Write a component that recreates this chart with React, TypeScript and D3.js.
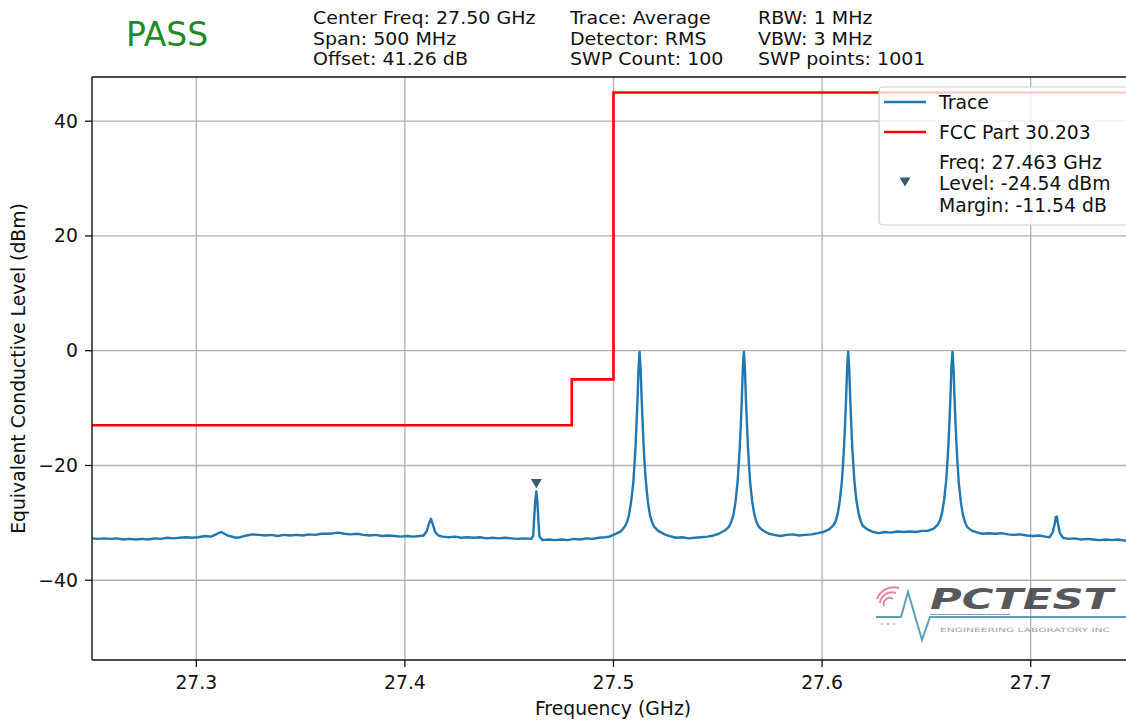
import React from "react";
import * as d3 from "d3";

const W = 1126;
const H = 721;

const headerCol1 = ["Center Freq: 27.50 GHz", "Span: 500 MHz", "Offset: 41.26 dB"];
const headerCol2 = ["Trace: Average", "Detector: RMS", "SWP Count: 100"];
const headerCol3 = ["RBW: 1 MHz", "VBW: 3 MHz", "SWP points: 1001"];
const verdict = "PASS";

const xTicks = [27.3, 27.4, 27.5, 27.6, 27.7];
const yTicks = [40, 20, 0, -20, -40];
const xDomain: [number, number] = [27.25, 27.75];
const yDomain: [number, number] = [-53.9, 47.7];

// FCC Part 30.203 limit (step after)
const limitFreq = [27.25, 27.48, 27.5, 27.75];
const limitLevel = [-13, -5, 45, 45];

const markerFreq = 27.463;
const markerLevel = -24.54;
const markerLegend = ["Freq: 27.463 GHz", "Level: -24.54 dBm", "Margin: -11.54 dB"];

// Trace: [frequency GHz, level dBm]
const traceData: [number, number][] = [
  [27.25, -32.7], [27.253, -32.8], [27.256, -32.7], [27.259, -32.8], [27.262, -32.7],
  [27.265, -32.9], [27.268, -32.8], [27.271, -32.9], [27.274, -32.8], [27.277, -32.9],
  [27.28, -32.7], [27.283, -32.8], [27.286, -32.6], [27.289, -32.7], [27.292, -32.6],
  [27.295, -32.5], [27.298, -32.6], [27.301, -32.5], [27.304, -32.3], [27.307, -32.4],
  [27.309, -32.1], [27.3105, -31.8], [27.312, -31.6], [27.3135, -31.9], [27.315, -32.2],
  [27.317, -32.4], [27.319, -32.6], [27.321, -32.5], [27.324, -32.2], [27.327, -32.0],
  [27.33, -32.1], [27.333, -32.2], [27.336, -32.1], [27.339, -32.3], [27.342, -32.1],
  [27.345, -32.2], [27.348, -32.1], [27.351, -32.2], [27.354, -32.0], [27.357, -32.1],
  [27.36, -31.9], [27.363, -31.9], [27.366, -31.8], [27.368, -31.7], [27.371, -31.9],
  [27.374, -32.0], [27.377, -31.9], [27.38, -32.1], [27.383, -32.2], [27.386, -32.1],
  [27.389, -32.3], [27.392, -32.2], [27.395, -32.3], [27.398, -32.4], [27.401, -32.3],
  [27.404, -32.4], [27.407, -32.3], [27.409, -32.2], [27.4105, -31.4], [27.4115, -30.2],
  [27.4125, -29.3], [27.4135, -30.4], [27.4145, -31.6], [27.416, -32.2], [27.418, -32.4],
  [27.421, -32.5], [27.424, -32.4], [27.427, -32.6], [27.43, -32.5], [27.433, -32.6],
  [27.436, -32.5], [27.439, -32.7], [27.442, -32.6], [27.445, -32.7], [27.448, -32.6],
  [27.451, -32.7], [27.454, -32.8], [27.457, -32.7], [27.4605, -32.8], [27.4615, -32.3],
  [27.462, -29.0], [27.4625, -26.1], [27.463, -24.54], [27.4635, -26.3], [27.464, -29.6],
  [27.4645, -32.4], [27.466, -33.0], [27.469, -32.9], [27.472, -33.0], [27.475, -32.9],
  [27.478, -33.0], [27.481, -32.8], [27.484, -32.9], [27.487, -32.7], [27.49, -32.8],
  [27.493, -32.6], [27.496, -32.5], [27.498, -32.4],
  // peak 1
  [27.5005, -32.0], [27.5035, -31.5], [27.5055, -30.6], [27.5065, -29.9], [27.5075, -28.5],
  [27.5085, -26.2], [27.5095, -22.9], [27.51, -20.1], [27.5105, -17.1], [27.511, -13.0],
  [27.5115, -8.6], [27.512, -3.1], [27.5125, -0.2], [27.513, -3.2], [27.5135, -8.4],
  [27.514, -12.9], [27.5145, -17.0], [27.515, -20.2], [27.5155, -22.7], [27.5165, -26.4],
  [27.5175, -28.7], [27.5185, -29.9], [27.5195, -30.7], [27.5215, -31.4], [27.5245, -32.0],
  [27.527, -32.3], [27.53, -32.6], [27.533, -32.5], [27.536, -32.7], [27.539, -32.6],
  [27.542, -32.5], [27.545, -32.4], [27.548, -32.2],
  // peak 2
  [27.5505, -31.9], [27.5535, -31.3], [27.5555, -30.6], [27.5565, -29.8], [27.5575, -28.6],
  [27.5585, -26.3], [27.5595, -22.8], [27.56, -20.0], [27.5605, -17.0], [27.561, -13.1],
  [27.5615, -8.5], [27.562, -3.0], [27.5625, -0.2], [27.563, -3.1], [27.5635, -8.6],
  [27.564, -13.0], [27.5645, -17.1], [27.565, -20.1], [27.5655, -22.9], [27.5665, -26.3],
  [27.5675, -28.5], [27.5685, -29.8], [27.5695, -30.6], [27.5715, -31.3], [27.5745, -31.9],
  [27.577, -32.1], [27.58, -32.3], [27.583, -32.1], [27.586, -32.0], [27.589, -32.2],
  [27.592, -32.1], [27.595, -32.0], [27.598, -31.8],
  // peak 3
  [27.6005, -31.6], [27.6035, -31.1], [27.6055, -30.4], [27.6065, -29.7], [27.6075, -28.4],
  [27.6085, -26.1], [27.6095, -22.7], [27.61, -19.9], [27.6105, -16.9], [27.611, -12.9],
  [27.6115, -8.4], [27.612, -3.0], [27.6125, -0.2], [27.613, -3.1], [27.6135, -8.5],
  [27.614, -13.0], [27.6145, -17.0], [27.615, -20.0], [27.6155, -22.8], [27.6165, -26.2],
  [27.6175, -28.4], [27.6185, -29.7], [27.6195, -30.5], [27.6215, -31.1], [27.6245, -31.6],
  [27.627, -31.8], [27.63, -31.6], [27.633, -31.7], [27.636, -31.5], [27.639, -31.6],
  [27.642, -31.5], [27.645, -31.6], [27.648, -31.4],
  // peak 4
  [27.6505, -31.4], [27.6535, -31.0], [27.6555, -30.3], [27.6565, -29.6], [27.6575, -28.3],
  [27.6585, -26.0], [27.6595, -22.6], [27.66, -19.8], [27.6605, -16.8], [27.661, -12.8],
  [27.6615, -8.3], [27.662, -2.9], [27.6625, -0.2], [27.663, -3.0], [27.6635, -8.4],
  [27.664, -12.9], [27.6645, -16.9], [27.665, -20.1], [27.6655, -22.9], [27.6665, -26.3],
  [27.6675, -28.6], [27.6685, -29.9], [27.6695, -30.7], [27.6715, -31.3], [27.6745, -31.7],
  [27.677, -31.9], [27.68, -31.8], [27.683, -31.9], [27.686, -31.8], [27.689, -32.0],
  [27.692, -32.1], [27.695, -32.0], [27.698, -32.2], [27.701, -32.3], [27.704, -32.2],
  [27.707, -32.4], [27.709, -32.5], [27.7105, -31.7], [27.7115, -30.2], [27.712, -29.0],
  [27.7125, -28.9], [27.713, -30.0], [27.714, -31.8], [27.7155, -32.6], [27.718, -32.8],
  [27.721, -32.7], [27.724, -32.9], [27.727, -32.8], [27.73, -32.9], [27.733, -33.0],
  [27.736, -32.9], [27.739, -33.0], [27.742, -32.9], [27.745, -33.1], [27.748, -33.0],
  [27.75, -33.1],
];

const FONT = "'DejaVu Sans', sans-serif";
const FS = 18.8;

export default function App() {
  const left = 92;
  const right = 1135;
  const top = 77;
  const bottom = 660;

  const x = d3.scaleLinear().domain(xDomain).range([left, right]);
  const y = d3.scaleLinear().domain(yDomain).range([bottom, top]);

  const traceLine = d3
    .line<[number, number]>()
    .x((d) => x(d[0]))
    .y((d) => y(d[1]));

  const limitPts: [number, number][] = limitFreq.map((f, i) => [f, limitLevel[i]]);
  const limitLine = d3
    .line<[number, number]>()
    .x((d) => x(d[0]))
    .y((d) => y(d[1]))
    .curve(d3.curveStepAfter);

  const mx = x(markerFreq);
  const my = y(markerLevel) - 8;
  const tri = (cx: number, cy: number, s: number) =>
    `M${cx - s / 2},${cy - s * 0.42} L${cx + s / 2},${cy - s * 0.42} L${cx},${cy + s * 0.42} Z`;

  const legX = 879;
  const legY = 87;

  return (
    <svg
      width={W}
      height={H}
      viewBox={`0 0 ${W} ${H}`}
      style={{ position: "fixed", left: 0, top: 0, background: "#fff", overflow: "hidden" }}
      fontFamily={FONT}
    >
      <defs>
        <clipPath id="plotClip">
          <rect x={left} y={top} width={right - left} height={bottom - top} />
        </clipPath>
      </defs>
      <rect x={0} y={0} width={W} height={H} fill="#fff" />

      {/* header */}
      <text x={126} y={46} fontSize={33} fill="#1f8b24">
        {verdict}
      </text>
      {[headerCol1, headerCol2, headerCol3].map((col, ci) =>
        col.map((t, i) => (
          <text
            key={`h${ci}-${i}`}
            transform={`translate(${[313, 570, 758][ci]},${24 + i * 20.5}) scale(1.08,1)`}
            fontSize={17.6}
            fill="#111"
          >
            {t}
          </text>
        ))
      )}

      {/* grid */}
      <g stroke="#b0b0b0" strokeWidth={1.3}>
        {xTicks.map((t) => (
          <line key={`gx${t}`} x1={x(t)} x2={x(t)} y1={top} y2={bottom} />
        ))}
        {yTicks.map((t) => (
          <line key={`gy${t}`} x1={left} x2={right} y1={y(t)} y2={y(t)} />
        ))}
      </g>

      {/* logo watermark */}
      <g opacity={0.85}>
        <g fill="none" stroke="#e0708f" strokeWidth={2}>
          <path d="M884,606 A6,6 0 0 1 893,599" />
          <path d="M880,603 A12,12 0 0 1 896,593" />
          <path d="M877,599 A18,18 0 0 1 899,588" />
        </g>
        <g fill="#9aa">
          <circle cx={882} cy={624} r={1} />
          <circle cx={888} cy={624} r={1} />
          <circle cx={894} cy={624} r={1} />
        </g>
        <path
          d="M876,617 L901,617 L908,592 L922,640 L930,617 L1126,617"
          fill="none"
          stroke="#3f8fae"
          strokeWidth={2}
        />
        <line x1={930} x2={1010} y1={614.5} y2={614.5} stroke="#7a8a90" strokeWidth={1} />
        <text
          x={930}
          y={609}
          fontSize={29}
          fontWeight="bold"
          fontStyle="italic"
          fill="#3a3d42"
          textLength={183}
          lengthAdjust="spacingAndGlyphs"
        >
          PCTEST
        </text>
        <text x={940} y={632} fontSize={6} fill="#8a9196" textLength={170} lengthAdjust="spacingAndGlyphs">
          ENGINEERING LABORATORY INC
        </text>
      </g>

      {/* data */}
      <g clipPath="url(#plotClip)">
        <path d={limitLine(limitPts) || ""} fill="none" stroke="#ff0000" strokeWidth={2.6} />
        <path
          d={traceLine(traceData) || ""}
          fill="none"
          stroke="#1f77b4"
          strokeWidth={2.4}
          strokeLinejoin="round"
        />
        <path d={tri(mx, my, 11)} fill="#3b5a6b" />
      </g>

      {/* spines */}
      <g stroke="#111" strokeWidth={1.4} fill="none">
        <line x1={left} x2={left} y1={top} y2={bottom} />
        <line x1={left} x2={right} y1={bottom} y2={bottom} />
        <line x1={left} x2={right} y1={top} y2={top} />
        <line x1={right} x2={right} y1={top} y2={bottom} />
      </g>

      {/* x ticks */}
      {xTicks.map((t) => (
        <g key={`xt${t}`}>
          <line x1={x(t)} x2={x(t)} y1={bottom} y2={bottom + 7} stroke="#111" strokeWidth={1.3} />
          <text x={x(t)} y={689} fontSize={FS} textAnchor="middle" fill="#111">
            {d3.format(".1f")(t)}
          </text>
        </g>
      ))}
      {/* y ticks */}
      {yTicks.map((t) => (
        <g key={`yt${t}`}>
          <line x1={left - 7} x2={left} y1={y(t)} y2={y(t)} stroke="#111" strokeWidth={1.3} />
          <text x={78} y={y(t) + 6.5} fontSize={FS} textAnchor="end" fill="#111">
            {d3.format("d")(t).replace("-", "\u2212")}
          </text>
        </g>
      ))}

      <text x={613} y={715} fontSize={FS} textAnchor="middle" fill="#111">
        Frequency (GHz)
      </text>
      <text
        transform={`translate(25,${(top + bottom) / 2}) rotate(-90)`}
        fontSize={FS}
        textAnchor="middle"
        fill="#111"
      >
        Equivalent Conductive Level (dBm)
      </text>

      {/* legend */}
      <g>
        <rect
          x={legX}
          y={legY}
          width={260}
          height={138}
          rx={4}
          fill="#fff"
          fillOpacity={0.8}
          stroke="#cccccc"
          strokeWidth={1.2}
        />
        <line x1={884} x2={926} y1={102} y2={102} stroke="#1f77b4" strokeWidth={2.4} />
        <text x={939} y={108.5} fontSize={FS} fill="#111">
          Trace
        </text>
        <line x1={884} x2={926} y1={132} y2={132} stroke="#ff0000" strokeWidth={2.6} />
        <text x={939} y={138.5} fontSize={FS} fill="#111">
          FCC Part 30.203
        </text>
        <path d={tri(905, 182, 11)} fill="#3b5a6b" />
        {markerLegend.map((t, i) => (
          <text key={`ml${i}`} x={939} y={168.5 + i * 21.5} fontSize={FS} fill="#111">
            {t}
          </text>
        ))}
      </g>
    </svg>
  );
}
